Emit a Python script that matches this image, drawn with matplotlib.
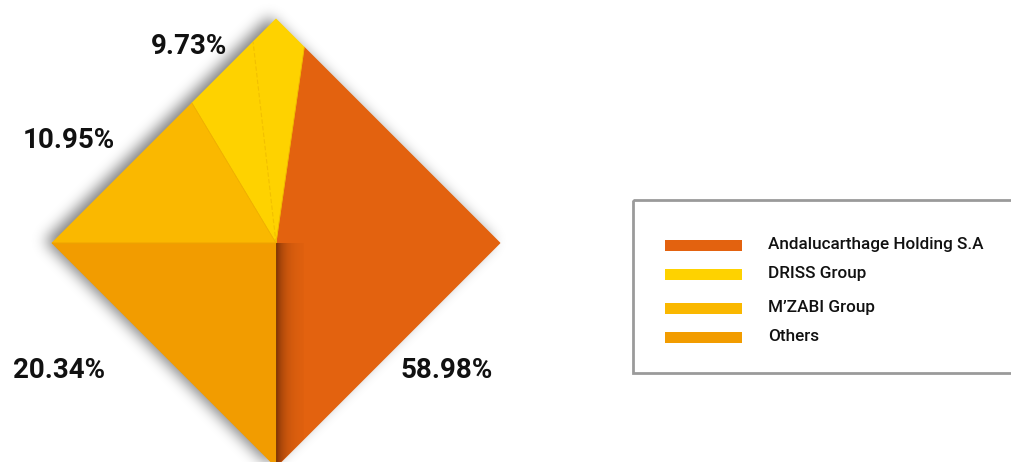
import numpy as np
import matplotlib
matplotlib.use("Agg")
import matplotlib.pyplot as plt
from matplotlib.patches import Polygon, Rectangle

# datos del grafico
owners = ["Andalucarthage Holding S.A", "DRISS Group", "M\u2019ZABI Group", "Others"]
shares = [58.98, 9.73, 10.95, 20.34]
colors = ["#E3620F", "#FED200", "#FAB800", "#F29C00"]

# geometria del rombo (en pixeles de la figura)
W, H = 1011, 462
cx, cy, R = 276, 243, 224
# angulos de los limites de cada porcion (grados, sentido antihorario desde abajo)
limites = [-90, 81.8, 121.0, 180, 270]
angulo_linea_tenue = 96.5
pos_etiquetas = [(447, 370), (189, 47), (69, 140), (59, 370)]
leyenda_y = [245, 274, 308, 337]


def punto_rombo(theta):
    t = np.radians(theta)
    r = R / (abs(np.cos(t)) + abs(np.sin(t)))
    return cx + r * np.cos(t), cy - r * np.sin(t)


def poligono_porcion(a0, a1):
    esquinas = [a for a in (-90, 0, 90, 180, 270) if a0 < a < a1]
    angulos = [a0] + esquinas + [a1]
    pts = [(cx, cy)] + [punto_rombo(a) for a in angulos]
    return pts


def sombra_rombo(dx, dy, sigma):
    X, Y = np.meshgrid(np.arange(W) + 0.5, np.arange(H) + 0.5)
    mask = (np.abs(X - (cx + dx)) + np.abs(Y - (cy + dy)) <= R).astype(float)
    k = np.arange(-3 * sigma, 3 * sigma + 1)
    g = np.exp(-k**2 / (2 * sigma**2))
    g /= g.sum()
    mask = np.apply_along_axis(lambda f: np.convolve(f, g, mode="same"), 1, mask)
    mask = np.apply_along_axis(lambda f: np.convolve(f, g, mode="same"), 0, mask)
    return mask


fig = plt.figure(figsize=(W / 100, H / 100), dpi=100)
ax = fig.add_axes([0, 0, 1, 1])
ax.set_xlim(0, W)
ax.set_ylim(H, 0)
ax.axis("off")

# sombra exterior
s = sombra_rombo(-7, -2, 7)
rgba = np.zeros((H, W, 4))
rgba[..., 3] = s * 0.5
ax.imshow(rgba, extent=(0, W, H, 0), zorder=1, interpolation="bilinear")

# porciones
patches = []
for i, (owner, share, color) in enumerate(zip(owners, shares, colors)):
    pts = poligono_porcion(limites[i], limites[i + 1])
    p = Polygon(pts, closed=True, facecolor=color, edgecolor=color, lw=0.6, zorder=2)
    ax.add_patch(p)
    patches.append(p)
    x, y = pos_etiquetas[i]
    ax.text(x, y, f"{share:.2f}%", fontsize=20, fontweight="bold", family="Roboto",
            color="#111111", ha="center", va="center")

# linea tenue dentro del amarillo
px, py = punto_rombo(angulo_linea_tenue)
ax.plot([cx, px], [cy, py], color="#F2C000", lw=0.8, ls=(0, (4, 2)), zorder=3)
# lineas de separacion
for a in limites[1:4]:
    px, py = punto_rombo(a)
    ax.plot([cx, px], [cy, py], color="#E8A800", lw=0.5, zorder=3, alpha=0.6)

# sombra interior junto a la division vertical
grad = np.zeros((1, 60, 4))
grad[..., 0] = 0.25
grad[..., 1] = 0.08
grad[..., 3] = 0.62 * np.exp(-np.linspace(0, 1, 60) * 3.2)
im = ax.imshow(grad, extent=(cx, cx + 28, H + 10, cy), zorder=4, aspect="auto",
               interpolation="bilinear")
im.set_clip_path(patches[0])
ax.set_xlim(0, W)
ax.set_ylim(H, 0)

# leyenda
ax.add_patch(Rectangle((633, 200), 420, 173, fill=False, edgecolor="#9A9A9A", lw=2, zorder=5))
for owner, color, y in zip(owners, colors, leyenda_y):
    ax.add_patch(Rectangle((665, y - 5.5), 77, 11, facecolor=color, edgecolor="none", zorder=5))
    ax.text(768, y + 4, owner, fontsize=12.3, fontweight="medium", family="Roboto",
            color="#111111", ha="left", va="baseline", zorder=5)

fig.savefig("out.png", dpi=100)
